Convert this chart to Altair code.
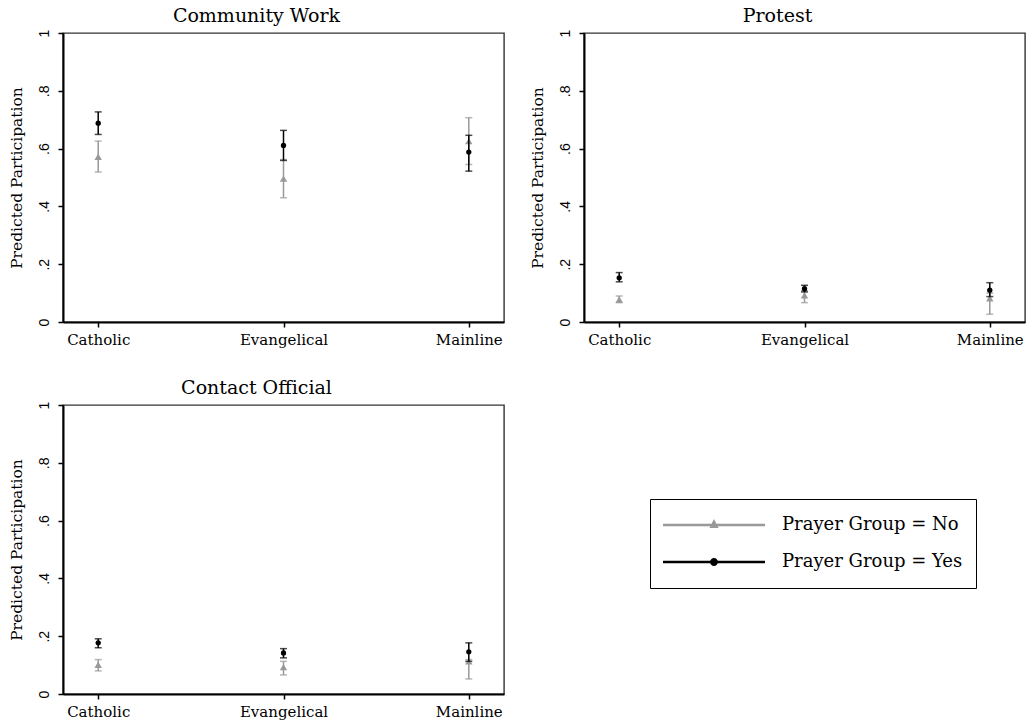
import math

import altair as alt
import pandas as pd

# Religious traditions on the x axis
religions = ["Catholic", "Evangelical", "Mainline"]
groups = ["Prayer Group = No", "Prayer Group = Yes"]

# Predicted participation with 95% confidence bounds, order follows `religions`
community_no_est = [0.572, 0.496, 0.626]
community_no_lo = [0.519, 0.430, 0.545]
community_no_hi = [0.626, 0.562, 0.707]
community_yes_est = [0.688, 0.611, 0.588]
community_yes_lo = [0.649, 0.559, 0.522]
community_yes_hi = [0.727, 0.663, 0.646]

protest_no_est = [0.078, 0.092, 0.082]
protest_no_lo = [0.067, 0.067, 0.027]
protest_no_hi = [0.090, 0.108, 0.100]
protest_yes_est = [0.153, 0.115, 0.110]
protest_yes_lo = [0.139, 0.104, 0.088]
protest_yes_hi = [0.171, 0.127, 0.136]

contact_no_est = [0.101, 0.093, 0.113]
contact_no_lo = [0.080, 0.066, 0.052]
contact_no_hi = [0.119, 0.113, 0.119]
contact_yes_est = [0.177, 0.142, 0.146]
contact_yes_lo = [0.160, 0.125, 0.113]
contact_yes_hi = [0.191, 0.157, 0.177]

outcomes = {
    "Community Work": [
        (community_no_est, community_no_lo, community_no_hi),
        (community_yes_est, community_yes_lo, community_yes_hi),
    ],
    "Protest": [
        (protest_no_est, protest_no_lo, protest_no_hi),
        (protest_yes_est, protest_yes_lo, protest_yes_hi),
    ],
    "Contact Official": [
        (contact_no_est, contact_no_lo, contact_no_hi),
        (contact_yes_est, contact_yes_lo, contact_yes_hi),
    ],
}

rows = []
for outcome, series in outcomes.items():
    for group, (est, lo, hi) in zip(groups, series):
        for rel, e, l, h in zip(religions, est, lo, hi):
            rows.append({"outcome": outcome, "group": group, "religion": rel,
                         "est": e, "lo": l, "hi": h})
df = pd.DataFrame(rows)

GREY = "#999999"
BLACK = "#000000"
SERIF = "DejaVu Serif"
SANS = "Liberation Sans"

# Legend swatches: a long horizontal line with the marker in its middle
line_part = "M-1,-0.025L1,-0.025L1,0.025L-1,0.025Z"
tri_part = "M-0.09,0.06L0,-0.12L0.09,0.06Z"
r = 0.078
circ_pts = [(r * math.cos(2 * math.pi * k / 16), r * math.sin(2 * math.pi * k / 16))
            for k in range(16)]
circ_part = "M" + "L".join(f"{px:.4f},{py:.4f}" for px, py in circ_pts) + "Z"
swatch_no = line_part + " " + tri_part
swatch_yes = line_part + " " + circ_part

x_scale = alt.Scale(type="point", domain=religions, padding=0.19)
y_scale = alt.Scale(domain=[0, 1], nice=False, zero=True)
x_axis = alt.Axis(title=None, labelAngle=0, labelFont=SERIF, labelFontSize=15,
                  labelColor="black", labelPadding=5, tickSize=5)
y_axis = alt.Axis(
    title="Predicted Participation", values=[0, 0.2, 0.4, 0.6, 0.8, 1],
    format=".1~f", labelExpr="replace(datum.label, '0.', '.')",
    labelAngle=270, labelFont=SANS, labelFontSize=14, labelColor="black",
    labelPadding=7, tickSize=5, titleFont=SERIF, titleFontSize=15.5,
    titleFontWeight="normal", titleColor="black", titlePadding=13,
)

X = alt.X("religion:N", scale=x_scale, axis=x_axis)


def Y(field):
    return alt.Y(f"{field}:Q", scale=y_scale, axis=y_axis)


PANEL_W, PANEL_H = 441, 289


def panel(outcome, with_legend=False):
    base = alt.Chart(df).transform_filter(alt.datum.outcome == outcome)
    layers = []
    for group, color, shape, size in [
        (groups[0], GREY, "triangle-up", 55),
        (groups[1], BLACK, "circle", 28),
    ]:
        sub = base.transform_filter(alt.datum.group == group)
        layers.append(sub.mark_rule(color=color, strokeWidth=1.5)
                      .encode(x=X, y=Y("lo"), y2="hi:Q"))
        layers.append(sub.mark_tick(color=color, size=7, thickness=1.5)
                      .encode(x=X, y=Y("lo")))
        layers.append(sub.mark_tick(color=color, size=7, thickness=1.5)
                      .encode(x=X, y=Y("hi")))
        layers.append(sub.mark_point(shape=shape, filled=True, size=size,
                                     color=color, opacity=1)
                      .encode(x=X, y=Y("est")))
    if with_legend:
        legend = alt.Legend(
            title=None, orient="none", legendX=587, legendY=466,
            padding=13, strokeColor="black", fillColor="white",
            cornerRadius=0, symbolSize=10404, symbolStrokeWidth=0,
            symbolOpacity=1, clipHeight=26, rowPadding=11, labelOffset=17,
            labelFont=SERIF, labelFontSize=18, labelColor="black", labelLimit=400,
        )
        key = (alt.Chart(df).transform_filter("false")
               .mark_point(filled=True, opacity=1, size=10404)
               .encode(
                   x=X, y=Y("est"),
                   color=alt.Color("group:N", scale=alt.Scale(domain=groups, range=[GREY, BLACK]),
                                   legend=legend),
                   shape=alt.Shape("group:N", scale=alt.Scale(domain=groups, range=[swatch_no, swatch_yes]),
                                   legend=legend),
               ))
        layers.append(key)
    return alt.layer(*layers).properties(
        width=PANEL_W, height=PANEL_H,
        title=alt.TitleParams(outcome, font=SERIF, fontSize=19, fontWeight="normal",
                              color="black", offset=3, anchor="middle", frame="bounds"),
    )


chart = alt.concat(
    panel("Community Work"), panel("Protest"),
    panel("Contact Official", with_legend=True),
    columns=2, spacing={"row": 83, "column": 80}, bounds="flush",
).properties(
    padding={"left": 8, "top": 6, "right": 0, "bottom": 0},
    background="white",
).configure_view(
    stroke="#333333", strokeWidth=1.4,
).configure_axis(
    grid=False, domainColor="black", domainWidth=2,
    tickColor="black", tickWidth=1.5,
).configure_title(font=SERIF, fontWeight="normal")

chart.save("out.html", embed_options={"renderer": "svg", "actions": False})
